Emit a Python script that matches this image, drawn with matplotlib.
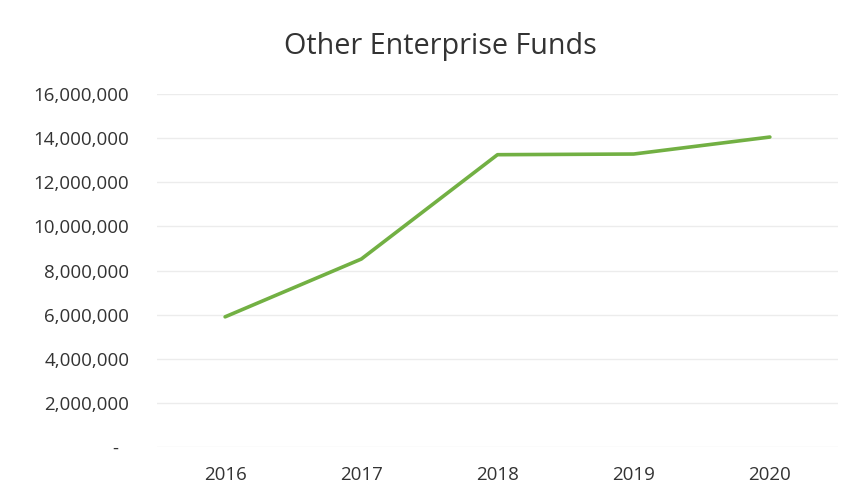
import matplotlib
matplotlib.use("Agg")
import matplotlib.pyplot as plt
from matplotlib.ticker import FuncFormatter

years = ["2016", "2017", "2018", "2019", "2020"]
funds = [5900000, 8520000, 13250000, 13280000, 14050000]
y_ticks = [0, 2000000, 4000000, 6000000, 8000000, 10000000, 12000000, 14000000, 16000000]

plt.rcParams['font.family'] = ['Open Sans', 'DejaVu Sans']

fig = plt.figure(figsize=(8.46, 4.98), dpi=100)
ax = fig.add_axes([0.1856, 0.1024, 0.8049, 0.7088])

x = list(range(len(years)))
ax.plot(x, funds, color='#72b043', lw=2.6, solid_capstyle='round', zorder=3)

ax.set_xlim(-0.5, len(years) - 0.5)
ax.set_ylim(0, 16000000)
ax.set_yticks(y_ticks)

def acct(v, pos):
    # accounting style: zero shown as a dash
    if v == 0:
        return "-  "
    return f"{v:,.0f}"

ax.yaxis.set_major_formatter(FuncFormatter(acct))
ax.set_xticks(x)
ax.set_xticklabels(years)

ax.grid(axis='y', color='#ececec', lw=1.0)
ax.set_axisbelow(True)
for s in ax.spines.values():
    s.set_visible(False)
ax.tick_params(length=0, labelsize=13.5, colors='#333333')
ax.tick_params(axis='y', pad=20)
ax.tick_params(axis='x', pad=14)

fig.text(0.521, 0.906, "Other Enterprise Funds", ha='center', va='center',
         fontsize=20.7, color='#333333')

fig.savefig("out.png", dpi=100)
